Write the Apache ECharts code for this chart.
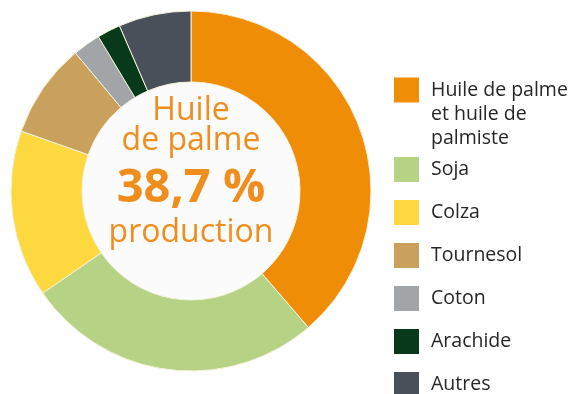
<!DOCTYPE html>
<html>
<head>
<meta charset="utf-8">
<script src="https://cdn.jsdelivr.net/npm/echarts@6/dist/echarts.min.js"></script>
<style>
  html, body { margin: 0; padding: 0; background: #ffffff; }
  #chart { width: 576px; height: 394px; }
</style>
</head>
<body>
<div id="chart"></div>
<script>
// Parts of world vegetable oil production (%)
const categories = [
  'Huile de palme\net huile de\npalmiste',
  'Soja',
  'Colza',
  'Tournesol',
  'Coton',
  'Arachide',
  'Autres'
];
const shares = [38.7, 26.7, 15.0, 8.5, 2.5, 2.1, 6.5];
const colors = ['#F08D06', '#B6D284', '#FDD83E', '#C9A05C', '#A2A5A8', '#07391A', '#4A505A'];

// Headline in the hole: share of the first category
const headline = shares[0].toFixed(1).replace('.', ',') + ' %';

const cx = 191, cy = 191;
const textColor = '#EF8E1C';
const fontFamily = '"Open Sans", "Noto Sans", sans-serif';

const chart = echarts.init(document.getElementById('chart'), null, { renderer: 'canvas' });

const legendText = {
  fontFamily: fontFamily,
  fontSize: 19.5,
  color: '#262626',
  lineHeight: 24,
  padding: [0, 0, 0, 7]
};

const legendBase = {
  orient: 'vertical',
  left: 394,
  padding: 0,
  height: 320,
  itemWidth: 25,
  itemHeight: 25,
  icon: 'rect',
  itemStyle: { borderWidth: 0 },
  selectedMode: false,
  textStyle: legendText
};

chart.setOption({
  animation: false,
  color: colors,
  legend: [
    // three-line entry: two blank lines on top keep its first line level with the swatch
    Object.assign({}, legendBase, {
      data: [categories[0]],
      top: 30,
      formatter: name => '\n\n' + name
    }),
    Object.assign({}, legendBase, {
      data: categories.slice(1),
      top: 157,
      itemGap: 18
    })
  ],
  graphic: [
    {
      type: 'circle',
      shape: { cx: cx, cy: cy, r: 109 },
      style: { fill: '#FBFBFB' },
      z: -1,
      silent: true
    },
    {
      type: 'text', x: cx, y: 111,
      style: { text: 'Huile', fill: textColor, font: '32px ' + fontFamily, align: 'center', verticalAlign: 'middle' }
    },
    {
      type: 'text', x: cx, y: 141,
      style: { text: 'de palme', fill: textColor, font: '32px ' + fontFamily, align: 'center', verticalAlign: 'middle' }
    },
    {
      type: 'text', x: cx, y: 189,
      style: { text: headline, fill: textColor, font: 'bold 47px ' + fontFamily, align: 'center', verticalAlign: 'middle' }
    },
    {
      type: 'text', x: cx, y: 232.5,
      style: { text: 'production', fill: textColor, font: '32px ' + fontFamily, align: 'center', verticalAlign: 'middle' }
    }
  ],
  series: [
    {
      type: 'pie',
      center: [cx, cy],
      radius: [109, 180],
      startAngle: 90,
      clockwise: true,
      avoidLabelOverlap: false,
      silent: true,
      label: { show: false },
      labelLine: { show: false },
      itemStyle: { borderColor: '#F4F1DC', borderWidth: 1 },
      data: categories.map((name, i) => ({ name: name, value: shares[i] }))
    }
  ]
});
</script>
</body>
</html>
